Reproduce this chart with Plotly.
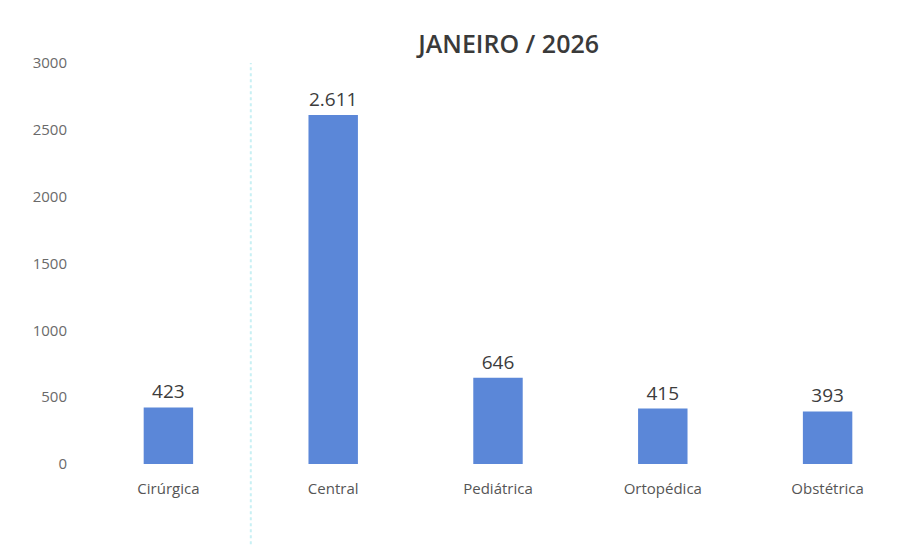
import plotly.graph_objects as go

categories = ["Cirúrgica", "Central", "Pediátrica", "Ortopédica", "Obstétrica"]
values = [423, 2611, 646, 415, 393]
y_ticks = [0, 500, 1000, 1500, 2000, 2500, 3000]

fig = go.Figure(go.Bar(
    x=categories,
    y=values,
    width=0.3,
    marker=dict(color="#5B87D8", line=dict(width=0)),
    text=values,
    texttemplate="%{y:,}",
    textposition="outside",
    textfont=dict(family="Open Sans", size=19, color="#3c3c3c"),
    cliponaxis=False,
))

fig.add_shape(type="line", xref="x", yref="paper", x0=0.5, x1=0.5, y0=-0.2, y1=1.0,
              line=dict(color="#c8f0f4", width=2, dash="dot"))

fig.update_layout(
    width=907, height=550,
    paper_bgcolor="white", plot_bgcolor="white",
    separators=",.",
    margin=dict(l=78, r=5, t=55, b=94),
    title=dict(text="JANEIRO / 2026", x=0.552, xanchor="center", y=0.935, yanchor="middle",
               font=dict(family="Open Sans", size=25, color="#3a3a3a", weight=600)),
    showlegend=False,
    bargap=0.7,
)
fig.update_yaxes(range=[0, 3000], tickvals=y_ticks, showgrid=False, zeroline=False,
                 showline=False, ticks="", ticklabelstandoff=18,
                 tickfont=dict(family="Open Sans", size=15, color="#6a6a6a"))
fig.update_xaxes(showgrid=False, showline=False, ticks="", ticklabelstandoff=14,
                 tickfont=dict(family="Open Sans", size=15, color="#555555"))

fig.write_html("out.html")
